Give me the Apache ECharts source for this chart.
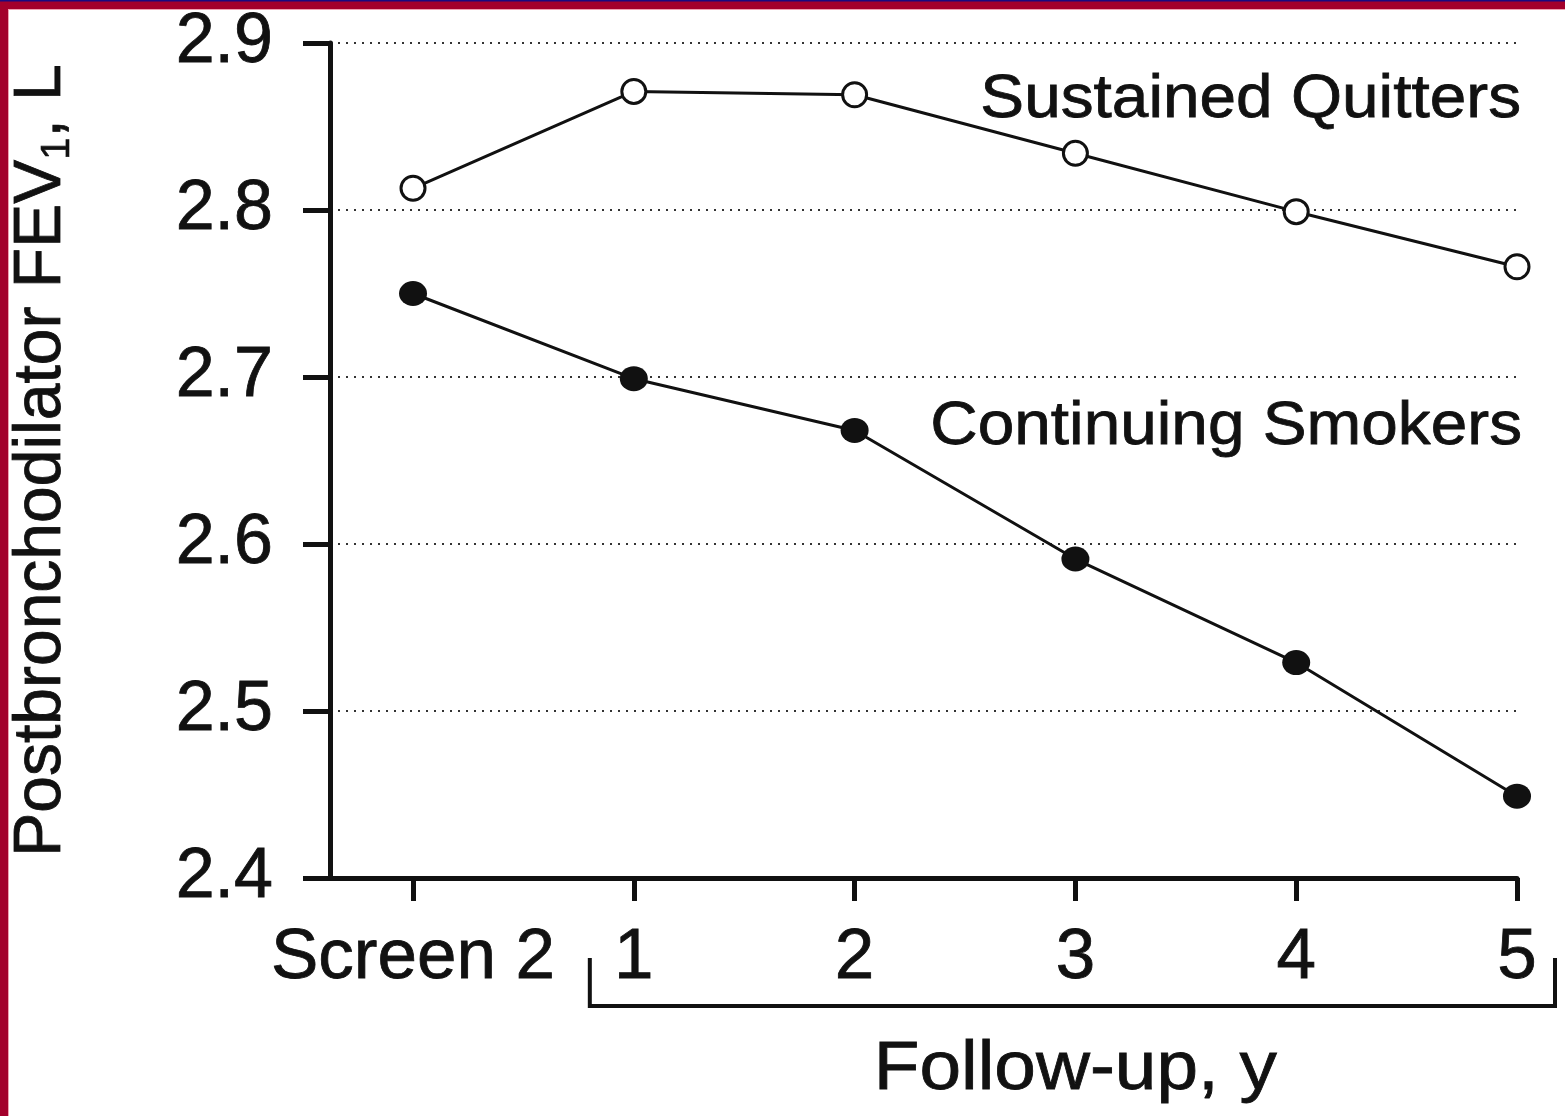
<!DOCTYPE html>
<html>
<head>
<meta charset="utf-8">
<script src="https://cdn.jsdelivr.net/npm/echarts@6/dist/echarts.min.js"></script>
<style>
  html, body { margin: 0; padding: 0; background: #fff; }
  #chart { width: 1565px; height: 1116px; }
</style>
</head>
<body>
<div id="chart"></div>
<script>
// ---- data ----
const categories = ['Screen 2', '1', '2', '3', '4', '5'];
const quitters = [2.813, 2.871, 2.869, 2.834, 2.799, 2.766];
const smokers  = [2.750, 2.699, 2.668, 2.591, 2.529, 2.449];
const seriesNames = ['Sustained Quitters', 'Continuing Smokers'];
const xTitle = 'Follow-up, y';

const FONT = '"Liberation Sans", Arial, Helvetica, sans-serif';
const INK = '#111';

const chart = echarts.init(document.getElementById('chart'), null, { renderer: 'canvas' });

const xIdx = categories.map((c, i) => i);

const option = {
  animation: false,
  backgroundColor: '#fff',
  grid: { left: 330, top: 43, right: 48, bottom: 238, containLabel: false },
  xAxis: {
    type: 'value',
    min: -0.376,
    max: 5,
    axisLine: { show: true, onZero: false, lineStyle: { color: INK, width: 5 } },
    axisTick: { show: true, customValues: xIdx, length: 23, inside: false, lineStyle: { color: INK, width: 5 } },
    axisLabel: {
      customValues: xIdx,
      formatter: v => categories[Math.round(v)],
      color: INK, fontFamily: FONT, fontSize: 71, margin: 45,
      textBorderColor: INK, textBorderWidth: 0.8
    },
    splitLine: { show: false }
  },
  yAxis: {
    type: 'value',
    min: 2.4,
    max: 2.9,
    interval: 0.1,
    axisLine: { show: true, onZero: false, lineStyle: { color: INK, width: 5 } },
    axisTick: { show: true, length: 27, lineStyle: { color: INK, width: 5 } },
    axisLabel: {
      formatter: v => v.toFixed(1),
      color: INK, fontFamily: FONT, fontSize: 70, margin: 57,
      textBorderColor: INK, textBorderWidth: 0.8
    },
    splitLine: { show: true, lineStyle: { color: '#333', width: 1.8, type: [2, 6] } },
    name: '{a|Postbronchodilator FEV}{s|1}{a|, L}',
    nameLocation: 'middle',
    nameGap: 252,
    nameTextStyle: {
      rich: {
        a: { fontFamily: FONT, fontSize: 66, color: INK, lineHeight: 72, textBorderColor: INK, textBorderWidth: 0.8 },
        s: { fontFamily: FONT, fontSize: 40, color: INK, lineHeight: 72, verticalAlign: 'bottom', textBorderColor: INK, textBorderWidth: 0.6 }
      }
    }
  },
  series: [
    {
      name: seriesNames[0],
      type: 'line',
      data: quitters.map((v, i) => [xIdx[i], v]),
      symbol: 'circle',
      symbolSize: 24,
      lineStyle: { color: INK, width: 3 },
      itemStyle: { color: '#fff', borderColor: INK, borderWidth: 3 },
      z: 3
    },
    {
      name: seriesNames[1],
      type: 'line',
      data: smokers.map((v, i) => [xIdx[i], v]),
      symbol: 'circle',
      symbolSize: [28, 25],
      lineStyle: { color: INK, width: 3 },
      itemStyle: { color: INK, borderColor: INK, borderWidth: 0 },
      z: 3
    }
  ]
};

chart.setOption(option);

// annotations placed via the chart's own coordinate conversion
const p1 = chart.convertToPixel({ gridIndex: 0 }, [1, 2.4]);
const p5 = chart.convertToPixel({ gridIndex: 0 }, [5, 2.4]);
const pq = chart.convertToPixel({ gridIndex: 0 }, [5, 2.868]);
const ps = chart.convertToPixel({ gridIndex: 0 }, [5, 2.670]);

const bxL = p1[0] - 44, bxR = p5[0] + 38;
const bTop = p1[1] + 80, bBot = p1[1] + 128;

const annStyle = { font: '62px ' + FONT, fill: INK, stroke: INK, lineWidth: 0.8, textAlign: 'right', textVerticalAlign: 'middle' };

chart.setOption({
  graphic: [
    {
      type: 'text', x: pq[0] + 4, y: pq[1] + 3, scaleX: 1.06,
      style: Object.assign({ text: seriesNames[0] }, annStyle)
    },
    {
      type: 'text', x: ps[0] + 5, y: ps[1] - 0, scaleX: 1.06,
      style: Object.assign({ text: seriesNames[1] }, annStyle)
    },
    {
      type: 'polyline',
      shape: { points: [[bxL, bTop], [bxL, bBot], [bxR, bBot], [bxR, bTop]] },
      style: { stroke: INK, lineWidth: 4, fill: null }
    },
    {
      type: 'text', x: (p1[0] + p5[0]) / 2, y: p1[1] + 192, scaleX: 1.1,
      style: { text: xTitle, font: '68px ' + FONT, fill: INK, stroke: INK, lineWidth: 0.8, textAlign: 'center', textVerticalAlign: 'middle' }
    },
    // frame band (top & left) as in the reference
    { type: 'rect', shape: { x: 0, y: 0, width: 1565, height: 9 }, style: { fill: '#a3002b' }, z: 100 },
    { type: 'rect', shape: { x: 0, y: 0, width: 1565, height: 1.5 }, style: { fill: '#1a0a80' }, z: 101 },
    { type: 'rect', shape: { x: 0, y: 9, width: 1565, height: 1 }, style: { fill: '#f0a0b0' }, z: 100 },
    { type: 'rect', shape: { x: 0, y: 0, width: 8, height: 1116 }, style: { fill: '#a3002b' }, z: 100 },
    { type: 'rect', shape: { x: 8, y: 10, width: 1, height: 1106 }, style: { fill: '#f0a0b0' }, z: 100 }
  ]
});
</script>
</body>
</html>
